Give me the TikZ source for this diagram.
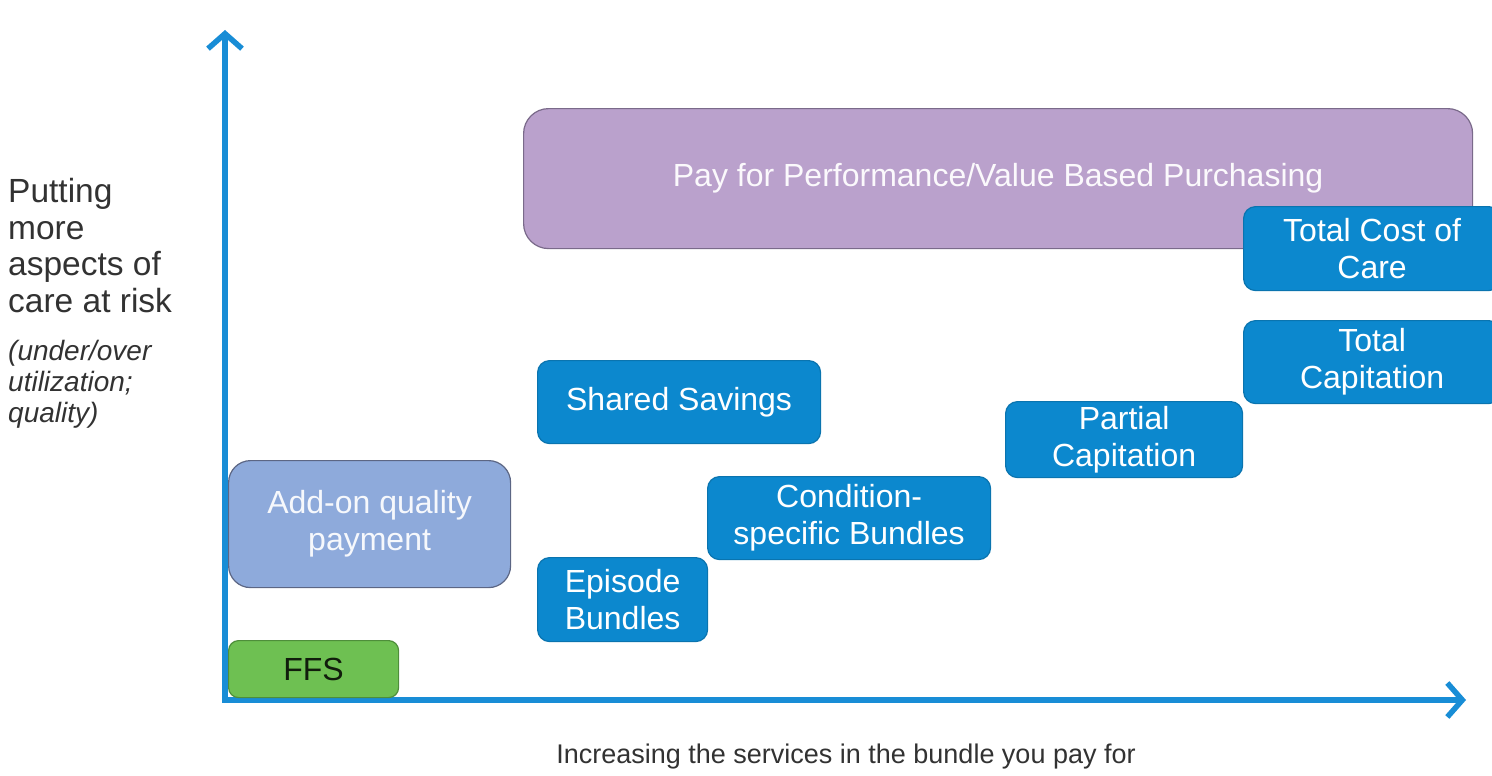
\documentclass[tikz,border=0pt]{standalone}
\usepackage{fontspec}
\setmainfont{Liberation Sans}
\usetikzlibrary{arrows.meta,positioning}
\definecolor{axisblue}{RGB}{24,141,214}
\definecolor{boxblue}{RGB}{12,136,206}
\definecolor{pfpfill}{RGB}{186,161,204}
\definecolor{pfpline}{RGB}{122,106,138}
\definecolor{addfill}{RGB}{142,170,219}
\definecolor{addline}{RGB}{92,102,132}
\definecolor{ffsfill}{RGB}{110,192,82}
\definecolor{ffsline}{RGB}{78,142,58}
\definecolor{labgray}{RGB}{50,50,50}
\begin{document}
\begin{tikzpicture}[x=1pt,y=-1pt,line join=round,line cap=round,>={Straight Barb[length=15pt,width=34pt]},
  pay/.style={anchor=north west,inner sep=0pt,align=center,line width=1.2pt,font=\fontsize{32}{37}\selectfont},
  bluebox/.style={pay,draw=boxblue!85!black,fill=boxblue,text=white,rounded corners=12pt},
  axis/.style={draw=axisblue,line width=5.5pt,line join=miter}]
\useasboundingbox (0,0) rectangle (1492,776);
% axes
\coordinate (O) at (225,700);
\coordinate (ytop) at (225,30);
\coordinate (xend) at (1466,700);
\draw[axis,<->] (ytop) -- (O) -- (xend);
% axis texts
\node[anchor=north west,inner sep=0pt,align=left,text=labgray,font=\fontsize{33.5}{36.7}\selectfont] (ylab) at (8,178)
  {Putting\\more\\aspects of\\care at risk};
\node[below right=27pt and 0pt of ylab.south west,inner sep=0pt,align=left,text=labgray,font=\fontsize{28}{31}\selectfont\itshape] (ynote)
  {(under/over\\utilization;\\quality)};
\node[text=labgray,font=\fontsize{27}{32}\selectfont] (xlab) at (846,757) {Increasing the services in the bundle you pay for};
% payment models
\node[pay,draw=pfpline,fill=pfpfill,text=white!94!pfpfill,rounded corners=25pt,minimum width=949pt,minimum height=140pt] (pfp) at (523,108)
  {Pay for Performance/Value Based Purchasing};
\node[pay,draw=ffsline,fill=ffsfill,text=black!85!ffsfill,rounded corners=10pt,minimum width=170pt,minimum height=57pt] (ffs) at (228,640) {FFS};
\node[pay,draw=addline,fill=addfill,text=white!92!addfill,rounded corners=22pt,minimum width=282pt,minimum height=127pt] (addon) at (228,460)
  {Add-on quality\\payment};
\node[bluebox,minimum width=170pt,minimum height=84pt] (episode) at (537,557) {Episode\\Bundles};
\node[bluebox,minimum width=283pt,minimum height=83pt] (shared) at (537,360) {Shared Savings};
\node[bluebox,minimum width=283pt,minimum height=83pt] (cond) at (707,476) {Condition-\\specific Bundles};
\node[bluebox,minimum width=237pt,minimum height=76pt] (partial) at (1005,401) {Partial\\Capitation};
\node[bluebox,minimum width=257pt,minimum height=83pt] (totcap) at (1243,320) {Total\\Capitation};
\node[bluebox,minimum width=257pt,minimum height=84pt] (tcoc) at (1243,206) {Total Cost of\\Care};
\end{tikzpicture}
\end{document}
